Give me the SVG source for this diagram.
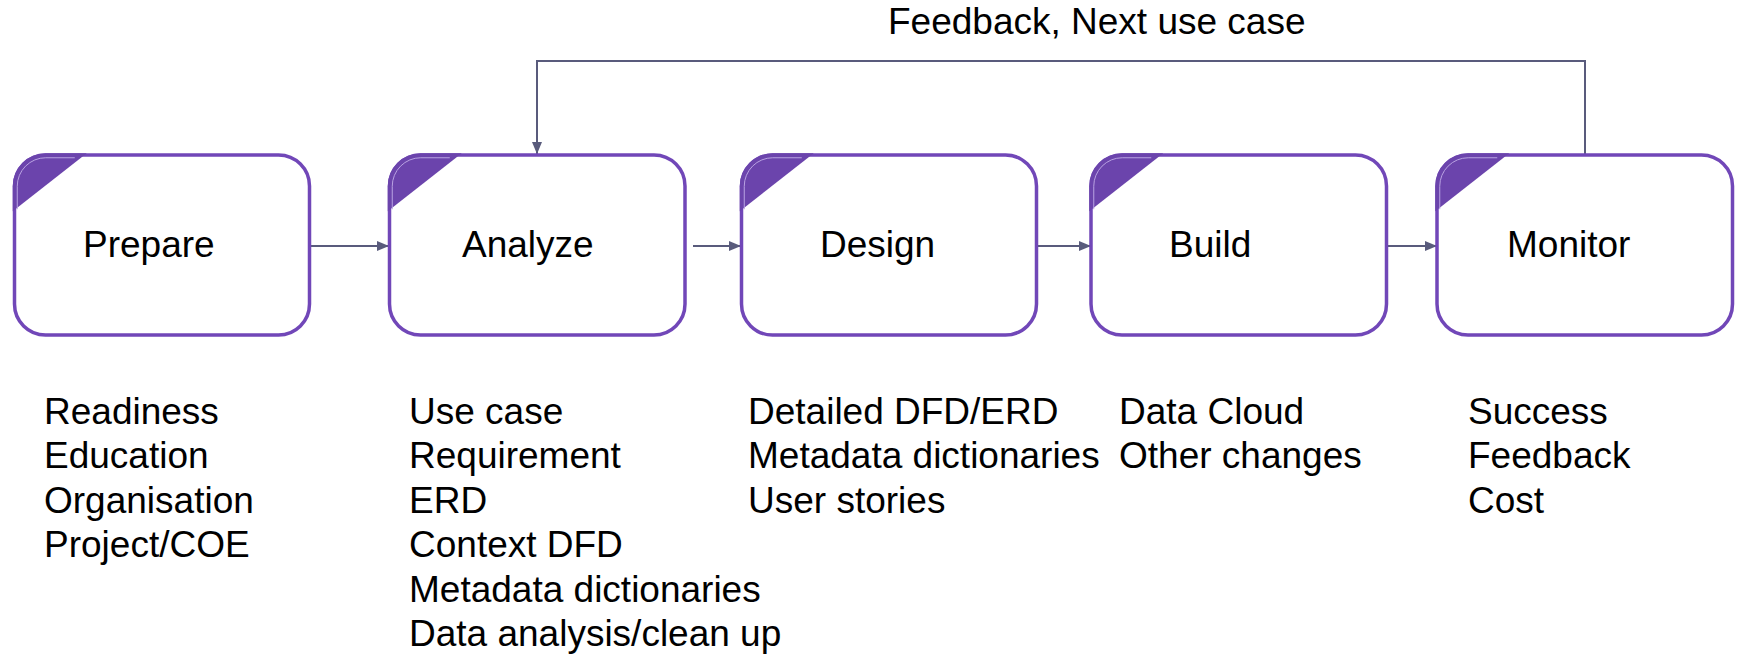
<svg xmlns="http://www.w3.org/2000/svg" width="1741" height="654" viewBox="0 0 1741 654">
<style>
.box{fill:#ffffff;stroke:#7147B8;stroke-width:3.5}
.tri{fill:#6B44AC}
.hl{fill:none;stroke:#B9A2E2;stroke-width:1}
.lbl{font-family:"Liberation Sans",Arial,sans-serif;font-size:37px;fill:#000000}
.conn{fill:none;stroke:#595B7C;stroke-width:2}
</style>
<defs>
<marker id="ah" viewBox="0 0 12 10" refX="12" refY="5" markerWidth="12" markerHeight="10" markerUnits="userSpaceOnUse" orient="auto">
<path d="M0,0 L12,5 L0,10 Z" fill="#595B7C"/>
</marker>
<g id="corner">
<path class="tri" d="M0,58 L0,33 A33,33 0 0 1 33,0 L74,0 Z"/>
<path class="hl" d="M4.5,56 L4.5,33 A28.5,28.5 0 0 1 33,4.5 L62,4.5"/>
</g>
</defs>
<rect width="1741" height="654" fill="#ffffff"/>
<g id="connectors">
<line class="conn" x1="309" y1="246" x2="389" y2="246" marker-end="url(#ah)"/>
<line class="conn" x1="693" y1="246" x2="741" y2="246" marker-end="url(#ah)"/>
<line class="conn" x1="1037" y1="246" x2="1091" y2="246" marker-end="url(#ah)"/>
<line class="conn" x1="1387" y1="246" x2="1437" y2="246" marker-end="url(#ah)"/>
<polyline class="conn" points="1585,155 1585,61 537,61 537,154" marker-end="url(#ah)"/>
<text class="lbl" x="888" y="34">Feedback, Next use case</text>
</g>
<g id="prepare">
<rect class="box" x="14.5" y="155" width="295" height="180" rx="31"/>
<use href="#corner" x="12.75" y="153.25"/>
<text class="lbl" x="83" y="257">Prepare</text>
</g>
<g id="analyze">
<rect class="box" x="389.5" y="155" width="295.5" height="180" rx="31"/>
<use href="#corner" x="387.75" y="153.25"/>
<text class="lbl" x="462" y="257">Analyze</text>
</g>
<g id="design">
<rect class="box" x="741.5" y="155" width="295" height="180" rx="31"/>
<use href="#corner" x="739.75" y="153.25"/>
<text class="lbl" x="820" y="257">Design</text>
</g>
<g id="build">
<rect class="box" x="1091" y="155" width="295.5" height="180" rx="31"/>
<use href="#corner" x="1089.25" y="153.25"/>
<text class="lbl" x="1169" y="257">Build</text>
</g>
<g id="monitor">
<rect class="box" x="1437" y="155" width="295.5" height="180" rx="31"/>
<use href="#corner" x="1435.25" y="153.25"/>
<text class="lbl" x="1507" y="257">Monitor</text>
</g>
<g id="prepare-notes">
<text class="lbl" x="44" y="424">Readiness</text>
<text class="lbl" x="44" y="468.4">Education</text>
<text class="lbl" x="44" y="512.8">Organisation</text>
<text class="lbl" x="44" y="557.2">Project/COE</text>
</g>
<g id="analyze-notes">
<text class="lbl" x="409" y="424">Use case</text>
<text class="lbl" x="409" y="468.4">Requirement</text>
<text class="lbl" x="409" y="512.8">ERD</text>
<text class="lbl" x="409" y="557.2">Context DFD</text>
<text class="lbl" x="409" y="601.6">Metadata dictionaries</text>
<text class="lbl" x="409" y="646">Data analysis/clean up</text>
</g>
<g id="design-notes">
<text class="lbl" x="748" y="424">Detailed DFD/ERD</text>
<text class="lbl" x="748" y="468.4">Metadata dictionaries</text>
<text class="lbl" x="748" y="512.8">User stories</text>
</g>
<g id="build-notes">
<text class="lbl" x="1119" y="424">Data Cloud</text>
<text class="lbl" x="1119" y="468.4">Other changes</text>
</g>
<g id="monitor-notes">
<text class="lbl" x="1468" y="424">Success</text>
<text class="lbl" x="1468" y="468.4">Feedback</text>
<text class="lbl" x="1468" y="512.8">Cost</text>
</g>
</svg>
